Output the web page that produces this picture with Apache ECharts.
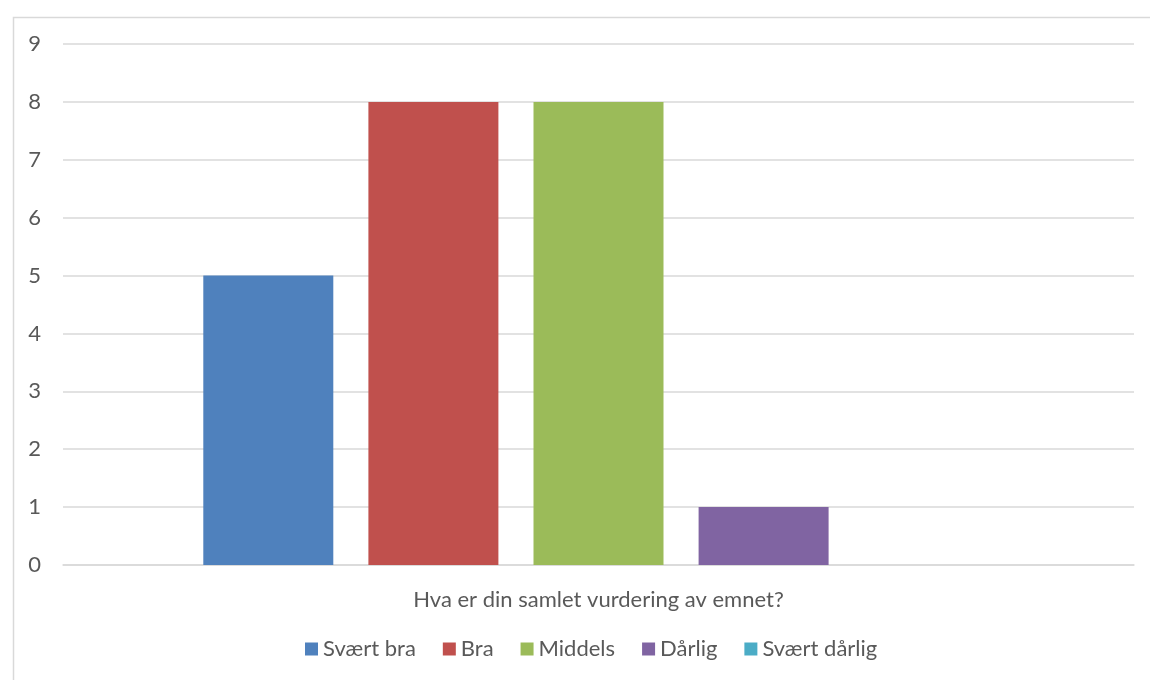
<!DOCTYPE html>
<html><head><meta charset="utf-8">
<script src="https://cdn.jsdelivr.net/npm/echarts@6/dist/echarts.min.js"></script>
<style>html,body{margin:0;padding:0;background:#fff}#c{width:1150px;height:680px}</style>
</head><body><div id="c"></div>
<script>
const categories = ['Hva er din samlet vurdering av emnet?'];
const seriesNames = ['Svært bra', 'Bra', 'Middels', 'Dårlig', 'Svært dårlig'];
const seriesValues = [[5], [8], [8], [1], [0]];
const colors = ['#4F81BD', '#C0504D', '#9BBB59', '#8064A2', '#4BACC6'];
const yTicks = [0, 1, 2, 3, 4, 5, 6, 7, 8, 9];

const font = 'Lato, "Noto Sans", sans-serif';
const chart = echarts.init(document.getElementById('c'));
chart.setOption({
  animation: false,
  color: colors,
  graphic: [{
    type: 'rect', left: 11, top: 15, silent: true,
    shape: { x: 0, y: 0, width: 1200, height: 720 },
    style: { fill: 'none', stroke: '#d9d9d9', lineWidth: 1.5 }
  }],
  grid: { left: 63, right: 16, top: 44, bottom: 115, containLabel: false },
  legend: {
    bottom: 15, left: 300, itemWidth: 13, itemHeight: 13, itemGap: 27,
    icon: 'rect',
    textStyle: { color: '#595959', fontSize: 22, fontFamily: font, padding: [0, 0, 0, 0] },
    data: seriesNames
  },
  xAxis: {
    type: 'category', data: categories,
    axisLine: { lineStyle: { color: '#d9d9d9', width: 1.5 } },
    axisTick: { show: false },
    axisLabel: { color: '#595959', fontSize: 22, fontFamily: font, margin: 24 }
  },
  yAxis: {
    type: 'value', min: yTicks[0], max: yTicks[yTicks.length - 1], interval: 1,
    axisLine: { show: false }, axisTick: { show: false },
    splitLine: { lineStyle: { color: '#d9d9d9', width: 1.5 } },
    axisLabel: { color: '#595959', fontSize: 22, fontFamily: font, margin: 22 }
  },
  series: seriesNames.map((n, i) => ({
    name: n, type: 'bar', data: seriesValues[i],
    barWidth: 130, barGap: '27%'
  }))
});
</script></body></html>
